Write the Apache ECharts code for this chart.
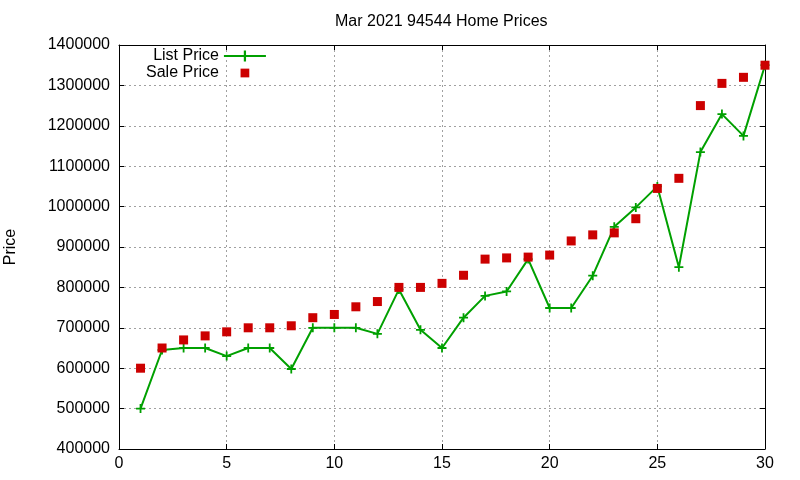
<!DOCTYPE html>
<html lang="en">

<head>
    <meta charset="UTF-8">
    <title>Mar 2021 94544 Home Prices</title>
    <script src="https://cdn.jsdelivr.net/npm/echarts@6/dist/echarts.min.js"></script>
    <style>
        html, body { margin: 0; padding: 0; background: #fff; }
        #chart { width: 800px; height: 480px; }
    </style>
</head>

<body>
    <div id="chart"></div>
    <script>
        // day of month (x axis)
        const days = [1, 2, 3, 4, 5, 6, 7, 8, 9, 10, 11, 12, 13, 14, 15,
            16, 17, 18, 19, 20, 21, 22, 23, 24, 25, 26, 27, 28, 29, 30];

        // list price per sale
        const listPrice = [500000, 645000, 650000, 650000, 630000, 650000, 650000, 598000, 700000, 700000,
            700000, 685000, 795000, 695000, 650000, 725000, 779000, 790000, 870000, 749000,
            749000, 829000, 950000, 998000, 1050000, 850000, 1135000, 1229000, 1175000, 1350000];

        // sale price per sale
        const salePrice = [600000, 650000, 670000, 680000, 690000, 700000, 700000, 705000, 725000, 733000,
            752000, 765000, 800000, 800000, 810000, 830000, 870000, 873000, 875000, 880000,
            915000, 930000, 935000, 970000, 1045000, 1070000, 1250000, 1305000, 1320000, 1350000];

        const green = '#00a000';
        const red = '#cc0000';
        const plus = 'path://M4,0H6V4H10V6H6V10H4V6H0V4H4Z';
        // square with empty margin so the legend keeps it small
        const squareIcon = 'path://M-3,-3M13,13M0,0H10V10H0Z';

        let myChart = echarts.init(document.getElementById('chart'));

        const gridLine = { show: true, lineStyle: { color: '#a0a0a0', type: [2, 3], width: 1 } };
        const boxLine = { show: true, onZero: false, lineStyle: { color: '#000', width: 1 } };
        const tickIn = { show: true, inside: true, length: 5, lineStyle: { color: '#000' } };

        let option = {
            animation: false,
            textStyle: { fontFamily: 'Liberation Sans, Arial, sans-serif' },
            title: {
                text: 'Mar 2021 94544 Home Prices',
                left: 330,
                top: 9,
                textStyle: { fontSize: 16, fontWeight: 'normal', color: '#000' }
            },
            legend: {
                orient: 'vertical',
                left: 141,
                top: 43,
                align: 'right',
                itemWidth: 42,
                itemHeight: 14,
                itemGap: 1,
                textStyle: { fontSize: 16, color: '#000' },
                data: ['List Price', { name: 'Sale Price', icon: squareIcon }]
            },
            grid: { left: 119, right: 35, top: 45, bottom: 31, outerBoundsMode: 'none', containLabel: false },
            xAxis: [{
                type: 'value',
                min: 0,
                max: 30,
                interval: 5,
                axisLine: boxLine,
                axisTick: tickIn,
                splitLine: gridLine,
                axisLabel: { fontSize: 16, color: '#000', margin: 7 }
            }, {
                type: 'value',
                position: 'top',
                min: 0,
                max: 30,
                interval: 5,
                axisLine: boxLine,
                axisTick: tickIn,
                splitLine: { show: false },
                axisLabel: { show: false }
            }],
            yAxis: [{
                type: 'value',
                min: 400000,
                max: 1400000,
                interval: 100000,
                name: 'Price',
                nameLocation: 'middle',
                nameGap: 100,
                nameTextStyle: { fontSize: 16, color: '#000' },
                axisLine: boxLine,
                axisTick: tickIn,
                splitLine: gridLine,
                axisLabel: { fontSize: 16, color: '#000', margin: 9, formatter: v => String(v) }
            }, {
                type: 'value',
                position: 'right',
                min: 400000,
                max: 1400000,
                interval: 100000,
                axisLine: boxLine,
                axisTick: tickIn,
                splitLine: { show: false },
                axisLabel: { show: false }
            }],
            series: [{
                name: 'List Price',
                type: 'line',
                data: days.map((d, i) => [d, listPrice[i]]),
                symbol: plus,
                symbolSize: 9,
                showAllSymbol: true,
                lineStyle: { color: green, width: 2 },
                itemStyle: { color: green },
                z: 2
            }, {
                name: 'Sale Price',
                type: 'scatter',
                data: days.map((d, i) => [d, salePrice[i]]),
                symbol: 'rect',
                symbolSize: 9,
                itemStyle: { color: red, opacity: 1 },
                z: 3
            }]
        };

        myChart.setOption(option);
    </script>
</body>

</html>
